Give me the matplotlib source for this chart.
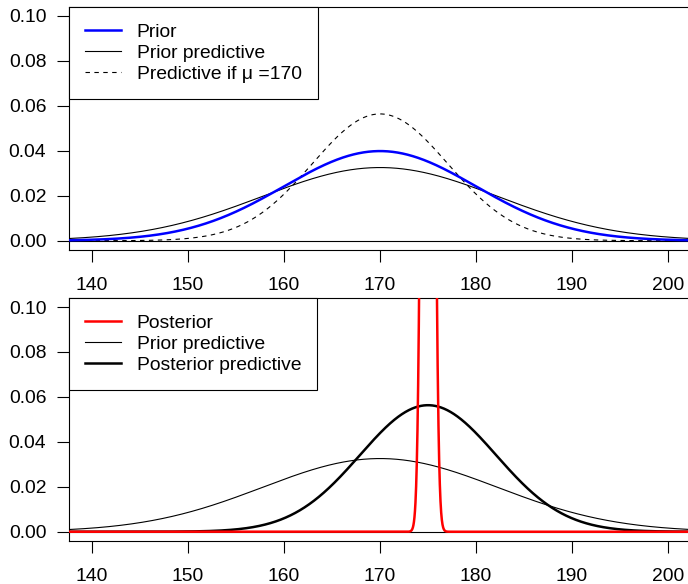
import numpy as np
import matplotlib
matplotlib.use('Agg')
import matplotlib.pyplot as plt

# 曲線參數 (從圖上讀出的常態分佈平均與標準差)
top_labels = ["Prior", "Prior predictive", "Predictive if \u03bc =170"]
top_means = [170, 170, 170]
top_sds = [10.0, 12.25, 7.07]

bottom_labels = ["Posterior", "Prior predictive", "Posterior predictive"]
bottom_means = [175, 170, 175]
bottom_sds = [0.45, 12.25, 7.085]

x_ticks = [140, 150, 160, 170, 180, 190, 200]
y_ticks = [0.00, 0.02, 0.04, 0.06, 0.08, 0.10]
y_tick_labels = ["0.00", "0.02", "0.04", "0.06", "0.08", "0.10"]

FS = 13.9
plt.rcParams['font.family'] = ['Liberation Sans', 'DejaVu Sans']


def dnorm(x, m, s):
    return np.exp(-0.5 * ((x - m) / s) ** 2) / (s * np.sqrt(2 * np.pi))


def style_axes(ax):
    ax.set_xlim(137.6, 202.4)
    ax.set_ylim(-0.004, 0.104)
    ax.set_xticks(x_ticks)
    ax.set_yticks(y_ticks)
    ax.set_yticklabels(y_tick_labels)
    ax.tick_params(axis='both', direction='out', length=8.3, width=0.8,
                   labelsize=FS, colors='black')
    ax.tick_params(axis='x', pad=11)
    ax.tick_params(axis='y', pad=8)
    for sp in ax.spines.values():
        sp.set_linewidth(0.8)
        sp.set_color('black')
    ax.axhline(0, color='black', linewidth=0.8, zorder=1)


def make_legend(ax):
    leg = ax.legend(loc='upper left', borderaxespad=0, fancybox=False,
                    fontsize=FS, handlelength=1.85, handletextpad=0.8,
                    labelspacing=0.18, borderpad=0.85, framealpha=1)
    leg.get_frame().set_edgecolor('black')
    leg.get_frame().set_linewidth(0.8)


x = np.linspace(135, 205, 4001)

fig = plt.figure(figsize=(6.88, 5.84), dpi=100)
ax1 = fig.add_axes([0.1003, 0.5724, 0.9041, 0.4156])
ax2 = fig.add_axes([0.1003, 0.0741, 0.9041, 0.4156])

# 上圖
ax1.plot(x, dnorm(x, top_means[0], top_sds[0]), color='blue', linewidth=1.8,
         label=top_labels[0], zorder=3)
ax1.plot(x, dnorm(x, top_means[1], top_sds[1]), color='black', linewidth=0.8,
         label=top_labels[1], zorder=2)
ax1.plot(x, dnorm(x, top_means[2], top_sds[2]), color='black', linewidth=0.8,
         linestyle=(0, (4, 4)), label=top_labels[2], zorder=2)
style_axes(ax1)
make_legend(ax1)

# 下圖
ax2.plot(x, dnorm(x, bottom_means[0], bottom_sds[0]), color='red', linewidth=1.8,
         label=bottom_labels[0], zorder=3)
ax2.plot(x, dnorm(x, bottom_means[1], bottom_sds[1]), color='black', linewidth=0.8,
         label=bottom_labels[1], zorder=2)
ax2.plot(x, dnorm(x, bottom_means[2], bottom_sds[2]), color='black', linewidth=1.8,
         label=bottom_labels[2], zorder=2)
style_axes(ax2)
make_legend(ax2)

plt.savefig('out.png', dpi=100)
plt.close()
